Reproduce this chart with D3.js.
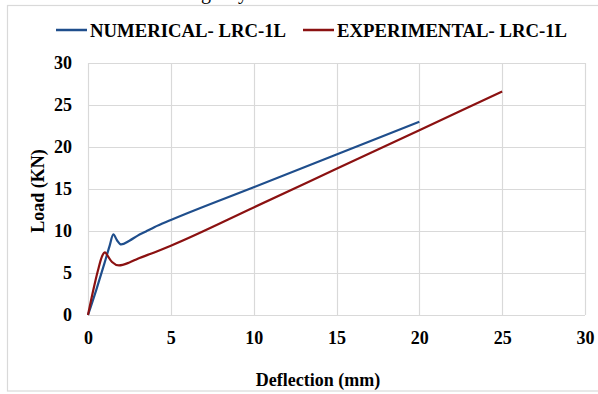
<!DOCTYPE html>
<html>
<head>
<meta charset="utf-8">
<script src="https://cdn.jsdelivr.net/npm/d3@7"></script>
<style>
html,body{margin:0;padding:0;background:#fff;}
svg{display:block;}
text{font-family:"Liberation Serif","Times New Roman",serif;font-weight:bold;fill:#000;}
</style>
</head>
<body>
<svg id="chart" width="598" height="394"></svg>
<script>
const seriesNames = ["NUMERICAL- LRC-1L", "EXPERIMENTAL- LRC-1L"];
const seriesColors = ["#1f4e8c", "#8b1111"];
const numX = [0, 0.5, 1.0, 1.3, 1.53, 1.75, 2.0, 2.5, 3.0, 3.5, 4.0, 5.0, 10, 15, 20];
const numY = [0, 3.0, 6.2, 8.2, 9.6, 8.9, 8.4, 8.85, 9.45, 9.95, 10.45, 11.3, 15.2, 19.1, 23.0];
const expX = [0, 0.3, 0.6, 0.85, 1.03, 1.2, 1.45, 1.87, 2.5, 3.0, 4.0, 5.0, 10, 15, 20, 25];
const expY = [0, 2.8, 5.3, 7.0, 7.45, 7.0, 6.3, 5.9, 6.25, 6.7, 7.45, 8.25, 12.8, 17.4, 22.0, 26.6];
const xTicks = [0, 5, 10, 15, 20, 25, 30];
const yTicks = [0, 5, 10, 15, 20, 25, 30];
const xTitle = "Deflection (mm)";
const yTitle = "Load (KN)";

const svg = d3.select("#chart");
const x = d3.scaleLinear().domain([0, 30]).range([88, 585]);
const y = d3.scaleLinear().domain([0, 30]).range([315, 63]);

// partial caption text cut off at top (as in the reference)
svg.append("text").attr("x", 201).attr("y", -1).style("font-weight","normal").style("font-size","20px").text("g");
svg.append("text").attr("x", 238).attr("y", -1).style("font-weight","normal").style("font-size","20px").text("y");

// outer border
svg.append("rect").attr("x", 7.5).attr("y", 5.5).attr("width", 600).attr("height", 385.5)
  .attr("fill", "none").attr("stroke", "#d9d9d9").attr("stroke-width", 1.2);

// gridlines
svg.append("g").selectAll("line").data(yTicks).join("line")
  .attr("x1", x(0)).attr("x2", x(30)).attr("y1", d => Math.round(y(d)) + 0.5).attr("y2", d => Math.round(y(d)) + 0.5)
  .attr("stroke", "#d9d9d9").attr("stroke-width", 1.2);
svg.append("g").selectAll("line").data(xTicks).join("line")
  .attr("y1", y(0)).attr("y2", y(30)).attr("x1", d => Math.round(x(d)) + 0.5).attr("x2", d => Math.round(x(d)) + 0.5)
  .attr("stroke", "#d9d9d9").attr("stroke-width", 1.2);

// axes via d3 axis (labels only)
const xAxis = svg.append("g").attr("transform", `translate(0,${y(0)})`)
  .call(d3.axisBottom(x).tickValues(xTicks).tickSize(0).tickPadding(16).tickFormat(d3.format("d")));
xAxis.select(".domain").remove();
xAxis.selectAll("text").style("font-size", "18px").style("font-family", "Liberation Serif, serif").style("font-weight", "bold").attr("fill", "#000");

const yAxis = svg.append("g").attr("transform", `translate(${x(0)},0)`)
  .call(d3.axisLeft(y).tickValues(yTicks).tickSize(0).tickPadding(16).tickFormat(d3.format("d")));
yAxis.select(".domain").remove();
yAxis.selectAll("text").style("font-size", "18px").style("font-family", "Liberation Serif, serif").style("font-weight", "bold").attr("fill", "#000");

// lines
const line = d3.line().x(d => x(d[0])).y(d => y(d[1])).curve(d3.curveMonotoneX);
const numData = numX.map((v, i) => [v, numY[i]]);
const expData = expX.map((v, i) => [v, expY[i]]);
svg.append("path").datum(numData).attr("d", line).attr("fill", "none")
  .attr("stroke", seriesColors[0]).attr("stroke-width", 2.2);
svg.append("path").datum(expData).attr("d", line).attr("fill", "none")
  .attr("stroke", seriesColors[1]).attr("stroke-width", 2.2);

// axis titles
svg.append("text").attr("x", 318).attr("y", 386).attr("text-anchor", "middle")
  .style("font-size", "18px").text(xTitle);
svg.append("text").attr("transform", "translate(44,191) rotate(-90)").attr("text-anchor", "middle")
  .style("font-size", "18px").text(yTitle);

// legend
const legendX = [56, 303];
const legendW = [196, 230];
seriesNames.forEach((n, i) => {
  svg.append("line").attr("x1", legendX[i]).attr("x2", legendX[i] + 31).attr("y1", 30).attr("y2", 30)
    .attr("stroke", seriesColors[i]).attr("stroke-width", 2.5);
  svg.append("text").attr("x", legendX[i] + 34).attr("y", 36.5).style("font-size", "18.5px")
    .attr("textLength", legendW[i]).attr("lengthAdjust", "spacingAndGlyphs").text(n);
});
</script>
</body>
</html>
